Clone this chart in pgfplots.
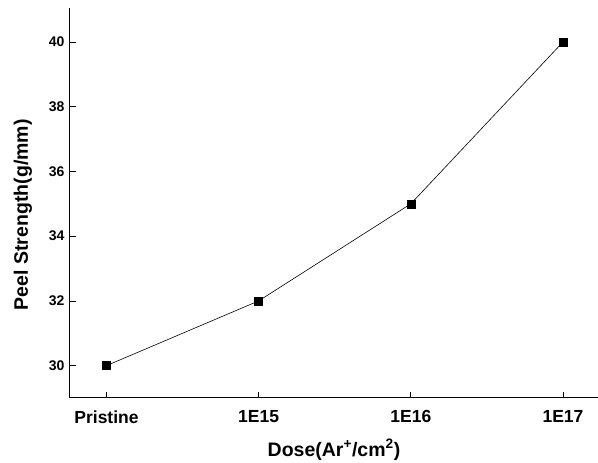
\documentclass[border=0pt]{standalone}
\usepackage{fontspec}
\setmainfont{Liberation Sans}
\usepackage{pgfplots}
\pgfplotsset{compat=1.18}

\begin{document}
\begin{tikzpicture}
\begin{axis}[
  scale only axis,
  width=528pt, height=390pt,
  xmin=-0.24, xmax=3.23,
  ymin=29, ymax=41.05,
  axis x line*=bottom, axis y line*=left,
  axis line style={-, line width=1pt},
  xtick={0,1,2,3},
  xticklabels={Pristine,1E15,1E16,1E17},
  ytick={30,32,34,36,38,40},
  tick align=inside,
  major tick length=6pt,
  tick style={line width=0.8pt, black},
  /pgf/number format/assume math mode=true,
  yticklabel style={font=\fontsize{14}{16}\selectfont\bfseries, xshift=-2pt},
  xticklabel style={font=\fontsize{17.5}{20}\selectfont\bfseries, yshift=-9pt},
  xlabel={Dose(Ar\textsuperscript{+}/cm\textsuperscript{2})},
  ylabel={Peel Strength(g/mm)},
  xlabel style={font=\fontsize{19.5}{22}\selectfont\bfseries, yshift=-9pt},
  ylabel style={font=\fontsize{19.5}{22}\selectfont\bfseries,
    at={(ticklabel cs:0.47)}, yshift=10pt},
]
\addplot[black, line width=0.6pt, mark=square*, mark size=4pt,
  mark options={solid, fill=black}] coordinates
  {(0,30) (1,32) (2,35) (3,40)};
\end{axis}
\pgfresetboundingbox
\path[use as bounding box] (current axis.south west) ++(-70pt,-65pt)
  rectangle ([yshift=8pt]current axis.north east);
\end{tikzpicture}
\end{document}
